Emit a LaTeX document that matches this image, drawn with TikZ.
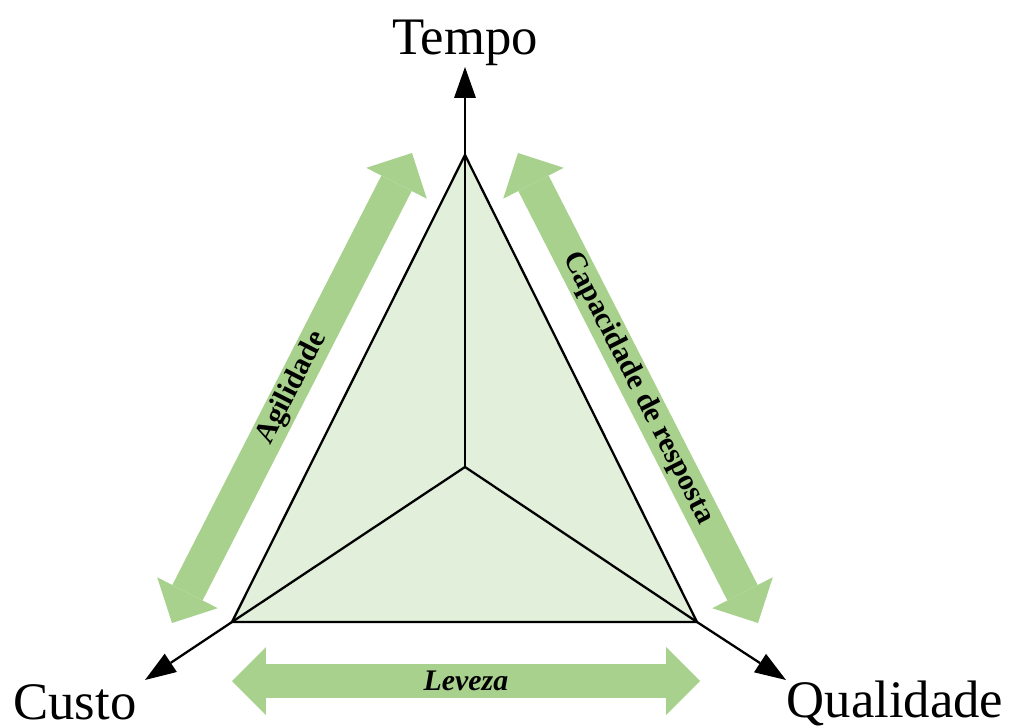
\documentclass[tikz,border=0pt]{standalone}
\usepackage{fontspec}
\setmainfont{Liberation Serif}
\usepackage{xcolor}
\usetikzlibrary{arrows.meta}
\definecolor{trifill}{HTML}{E2EFDA}
\definecolor{bandgreen}{HTML}{A9D18E}
\tikzset{
  side/.style={line width=1.3pt,draw=black,line join=miter},
  axis/.style={-{Triangle[length=0.62cm,width=0.44cm,line width=0pt]},line width=1.3pt,draw=black},
  band/.style={{Triangle[length=0.68cm,width=1.36cm,line width=0pt]}-{Triangle[length=0.68cm,width=1.36cm,line width=0pt]},line width=0.68cm,draw=bandgreen},
  bandlabel/.style={font=\fontsize{17}{20}\selectfont\bfseries,text=black,sloped,midway},
  corner/.style={font=\fontsize{30}{34}\selectfont,anchor=base}
}
\begin{document}
\begin{tikzpicture}[x=0.02cm,y=0.02cm]
\useasboundingbox (0,0) rectangle (1009,725);
\coordinate (top) at (465,570);
\coordinate (bl) at (232,103);
\coordinate (br) at (697,103);
\coordinate (o) at (465,258);
\coordinate (ttip) at (465,658);
\coordinate (ctip) at (145,45);
\coordinate (qtip) at (786,45);
\coordinate (agA) at (172,102);
\coordinate (agB) at (412,572);
\coordinate (crA) at (518,572);
\coordinate (crB) at (758,102);
\coordinate (lvA) at (232,44);
\coordinate (lvB) at (700,44);
% triangle and spokes
\filldraw[side,fill=trifill] (top) -- (bl) -- (br) -- cycle;
\draw[side] (o) -- (top);
\draw[side] (o) -- (bl);
\draw[side] (o) -- (br);
% axes
\draw[axis] (top) -- (ttip);
\draw[axis] (bl) -- (ctip);
\draw[axis] (br) -- (qtip);
\node[corner] (tempo) at (465,670) {Tempo};
\node[corner] (custo) at (75,6) {Custo};
\node[corner] (qual) at (895,8) {Qualidade};
% green bands
\draw[band] (agA) -- node[bandlabel] (agil) {Agilidade} (agB);
\draw[band] (crA) -- node[bandlabel] (resp) {Capacidade de resposta} (crB);
\draw[band] (lvA) -- node[bandlabel,font=\fontsize{17}{20}\selectfont\bfseries\itshape] (lev) {Leveza} (lvB);
\end{tikzpicture}
\end{document}
